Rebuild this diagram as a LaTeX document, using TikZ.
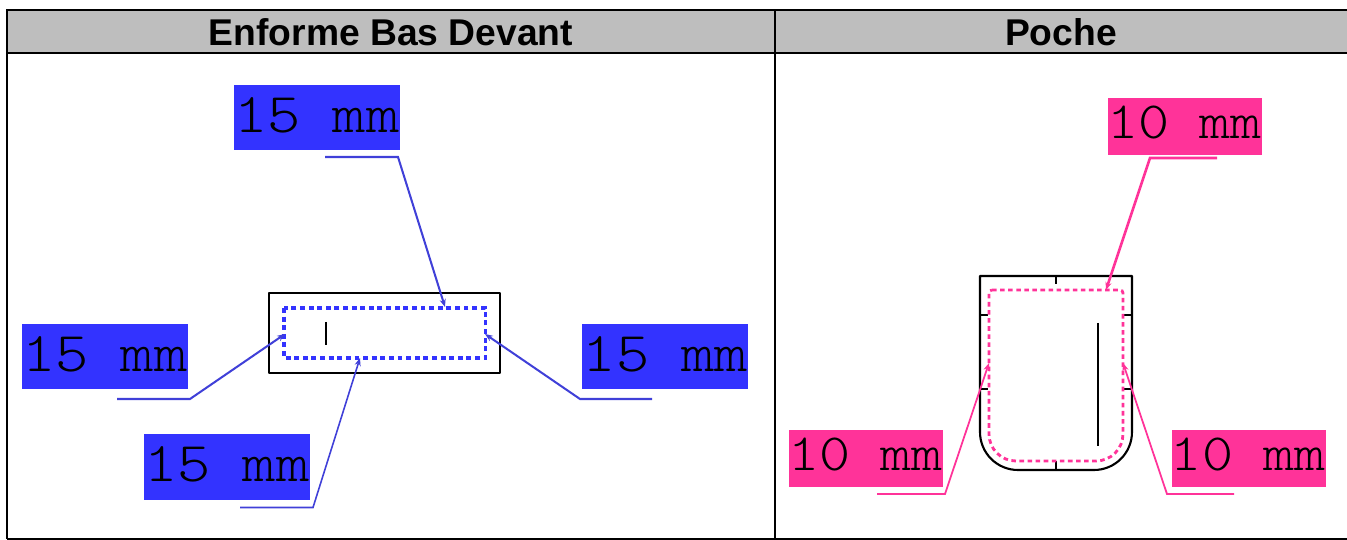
\documentclass[tikz,border=0pt]{standalone}
\usepackage{fontspec}
\setmainfont{Liberation Sans}
\setmonofont[FakeStretch=1.13]{Latin Modern Mono Light}
\usetikzlibrary{arrows.meta}
\definecolor{hdrgray}{HTML}{BEBEBE}
\definecolor{labelblue}{HTML}{3333FF}
\definecolor{leadblue}{HTML}{4040D8}
\definecolor{labelpink}{HTML}{FF3399}
\newcommand{\wsp}{\ \hspace{7.4pt}}
\tikzset{
  cellrule/.style={black,line width=1.4pt},
  hdrtext/.style={font=\fontsize{21.2pt}{24pt}\selectfont\bfseries,inner sep=0pt},
  bluelabel/.style={fill=labelblue,inner sep=0pt,align=right,text width=3.32cm,
    text height=26.9pt,text depth=10.1pt,font=\fontsize{32pt}{33pt}\ttfamily},
  pinklabel/.style={fill=labelpink,inner sep=0pt,align=right,text width=3.08cm,
    text height=23.3pt,text depth=9.1pt,font=\fontsize{29.8pt}{31pt}\ttfamily},
  garment/.style={black,line width=1.2pt,line join=round},
  seamblue/.style={labelblue,line width=1.8pt,dash pattern=on 2.8pt off 2.1pt},
  seampink/.style={labelpink,line width=1.6pt,dash pattern=on 2.6pt off 2pt},
  leadb/.style={leadblue,line width=1.15pt,-{Stealth[length=4.5pt,width=3.5pt]}},
  leadp/.style={labelpink,line width=1pt,-{Stealth[length=4.5pt,width=3.5pt]}}
}

\begin{document}
\begin{tikzpicture}[x=0.02cm,y=-0.02cm]
  \useasboundingbox (0,0) rectangle (1347,540);
  % table
  \fill[hdrgray] (7,10) rectangle (1347,53);
  \draw[cellrule] (7,539) -- (7,10) -- (1347,10);
  \draw[cellrule] (7,53) -- (1347,53);
  \draw[cellrule] (775,10) -- (775,539);
  \draw[cellrule] (7,539) -- (1347,539);
  \node[hdrtext] (hdrleft) at (391,32) {Enforme Bas Devant};
  \node[hdrtext] (hdrright) at (1061,32) {Poche};

  % left piece
  \draw[garment] (269,293) rectangle (500,373);
  \draw[seamblue] (284,308) rectangle (485.5,358);
  \draw[garment,line width=0.9pt] (326,322) -- (326,345);
  \node[bluelabel] (ltop) at (316.7,118) {\llap{15\wsp mm}};
  \node[bluelabel] (lwest) at (104.7,356.5) {\llap{15\wsp mm}};
  \node[bluelabel] (least) at (665,356.5) {\llap{15\wsp mm}};
  \node[bluelabel] (lsouth) at (226.7,467) {\llap{15\wsp mm}};
  \coordinate (ltopa) at (325,157);
  \coordinate (ltopb) at (398,157);
  \coordinate (ltopc) at (445,307);
  \coordinate (lwesta) at (117,399);
  \coordinate (lwestb) at (190,399);
  \coordinate (lwestc) at (285,334);
  \coordinate (leasta) at (652,399);
  \coordinate (leastb) at (580,399);
  \coordinate (leastc) at (485,334);
  \coordinate (lsoutha) at (240,507.5);
  \coordinate (lsouthb) at (313,507.5);
  \coordinate (lsouthc) at (360,358);
  \draw[leadb] (ltopa) -- (ltopb) -- (ltopc);
  \draw[leadb] (lwesta) -- (lwestb) -- (lwestc);
  \draw[leadb] (leasta) -- (leastb) -- (leastc);
  \draw[leadb,line width=0.9pt] (lsoutha) -- (lsouthb) -- (lsouthc);

  % right piece
  \draw[garment] (980,276) -- (1132,276) -- (1132,432)
     arc[start angle=0,end angle=90,radius=38] -- (1018,470)
     arc[start angle=90,end angle=180,radius=38] -- cycle;
  \foreach \ty in {315,389} {
    \draw[garment] (980,\ty) -- (988,\ty);
    \draw[garment] (1124,\ty) -- (1132,\ty);
  }
  \draw[garment] (1056,276) -- (1056,284);
  \draw[garment] (1056,461) -- (1056,470);
  \draw[garment,line width=0.9pt] (1098,323) -- (1098,446);
  \draw[seampink] (992,290) -- (1120,290)
     arc[start angle=-90,end angle=0,radius=3] -- (1123,434)
     arc[start angle=0,end angle=90,radius=27] -- (1016,461)
     arc[start angle=90,end angle=180,radius=27] -- (989,293)
     arc[start angle=180,end angle=270,radius=3];
  \node[pinklabel] (ptop) at (1185,126.5) {\llap{10\wsp mm}};
  \node[pinklabel] (pwest) at (866,458.5) {\llap{10\wsp mm}};
  \node[pinklabel] (peast) at (1248.7,458.5) {\llap{10\wsp mm}};
  \coordinate (ptopa) at (1217,158);
  \coordinate (ptopb) at (1150,158);
  \coordinate (ptopc) at (1106,290);
  \coordinate (pwesta) at (877,494);
  \coordinate (pwestb) at (945,494);
  \coordinate (pwestc) at (989,363);
  \coordinate (peasta) at (1234,494);
  \coordinate (peastb) at (1167,494);
  \coordinate (peastc) at (1123,363);
  \draw[leadp,line width=1.5pt] (ptopa) -- (ptopb) -- (ptopc);
  \draw[leadp] (pwesta) -- (pwestb) -- (pwestc);
  \draw[leadp] (peasta) -- (peastb) -- (peastc);
\end{tikzpicture}
\end{document}
